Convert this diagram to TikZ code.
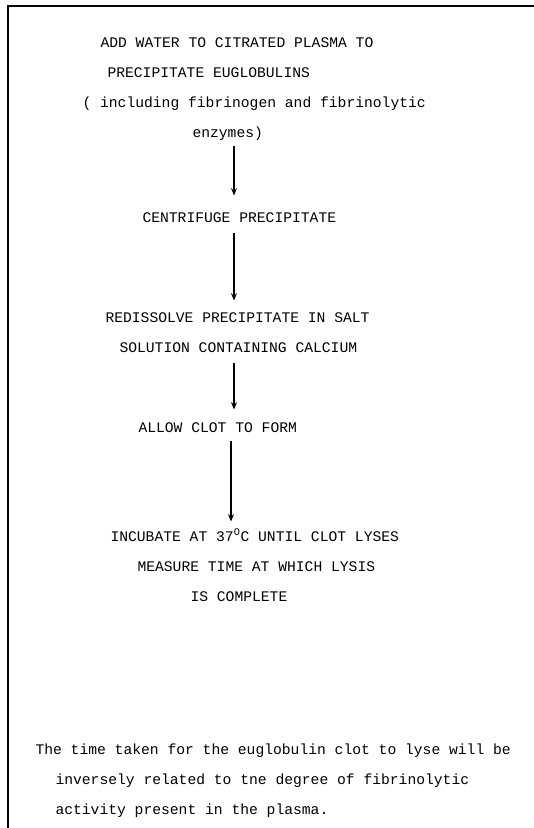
\documentclass[tikz,border=0pt]{standalone}
\usepackage{fontspec}
\setmonofont{Liberation Mono}
\usetikzlibrary{arrows.meta,positioning}
\tikzset{
    >={Stealth[length=5.5pt,width=4.5pt]},
    every picture/.style={line width=0.8pt},
    txt/.style={anchor=base west,inner sep=0pt,text height=6pt,text depth=2pt,
        font=\ttfamily\fontsize{11}{13}\selectfont},
    flow/.style={->}
}

\begin{document}
\begin{tikzpicture}[x=0.75pt,y=-0.75pt]
    \useasboundingbox (0,0) rectangle (534,828);

    % frame
    \draw[line width=1.8pt] (534,6) -- (8,6) -- (8,828);

    % steps
    \node[txt] (add1) at (100,47) {ADD WATER TO CITRATED PLASMA TO};
    \node[txt] (add2) at (107,77) {PRECIPITATE EUGLOBULINS};
    \node[txt] (add3) at (82,107) {( including fibrinogen and fibrinolytic};
    \node[txt] (add4) at (192,137) {enzymes)};
    \node[txt] (cent) at (142,222) {CENTRIFUGE PRECIPITATE};
    \node[txt] (redis1) at (105,322) {REDISSOLVE PRECIPITATE IN SALT};
    \node[txt] (redis2) at (119,352) {SOLUTION CONTAINING CALCIUM};
    \node[txt] (clot) at (138,432) {ALLOW CLOT TO FORM};
    \node[txt] (inc1) at (110,541) {INCUBATE AT 37\textsuperscript{O}C UNTIL CLOT LYSES};
    \node[txt] (inc2) at (137,571) {MEASURE TIME AT WHICH LYSIS};
    \node[txt] (inc3) at (190,601) {IS COMPLETE};

    % note
    \node[txt] (note1) at (35,754) {The time taken for the euglobulin clot to lyse will be};
    \node[txt] (note2) at (55,784) {inversely related to tne degree of fibrinolytic};
    \node[txt] (note3) at (55,814) {activity present in the plasma.};

    % arrows
    \coordinate (col) at (234,0);
    \coordinate (col2) at (231,0);
    \draw[flow,shorten <=4pt,shorten >=13.5pt] (col |- add4.south) -- (col |- cent.north);
    \draw[flow,shorten <=5.5pt,shorten >=9.75pt] (col |- cent.south) -- (col |- redis1.north);
    \draw[flow,shorten <=5.5pt,shorten >=10.5pt] (col |- redis2.south) -- (col |- clot.north);
    \draw[flow,shorten <=4pt,shorten >=8.25pt] (col2 |- clot.south) -- (col2 |- inc1.north);
\end{tikzpicture}
\end{document}
